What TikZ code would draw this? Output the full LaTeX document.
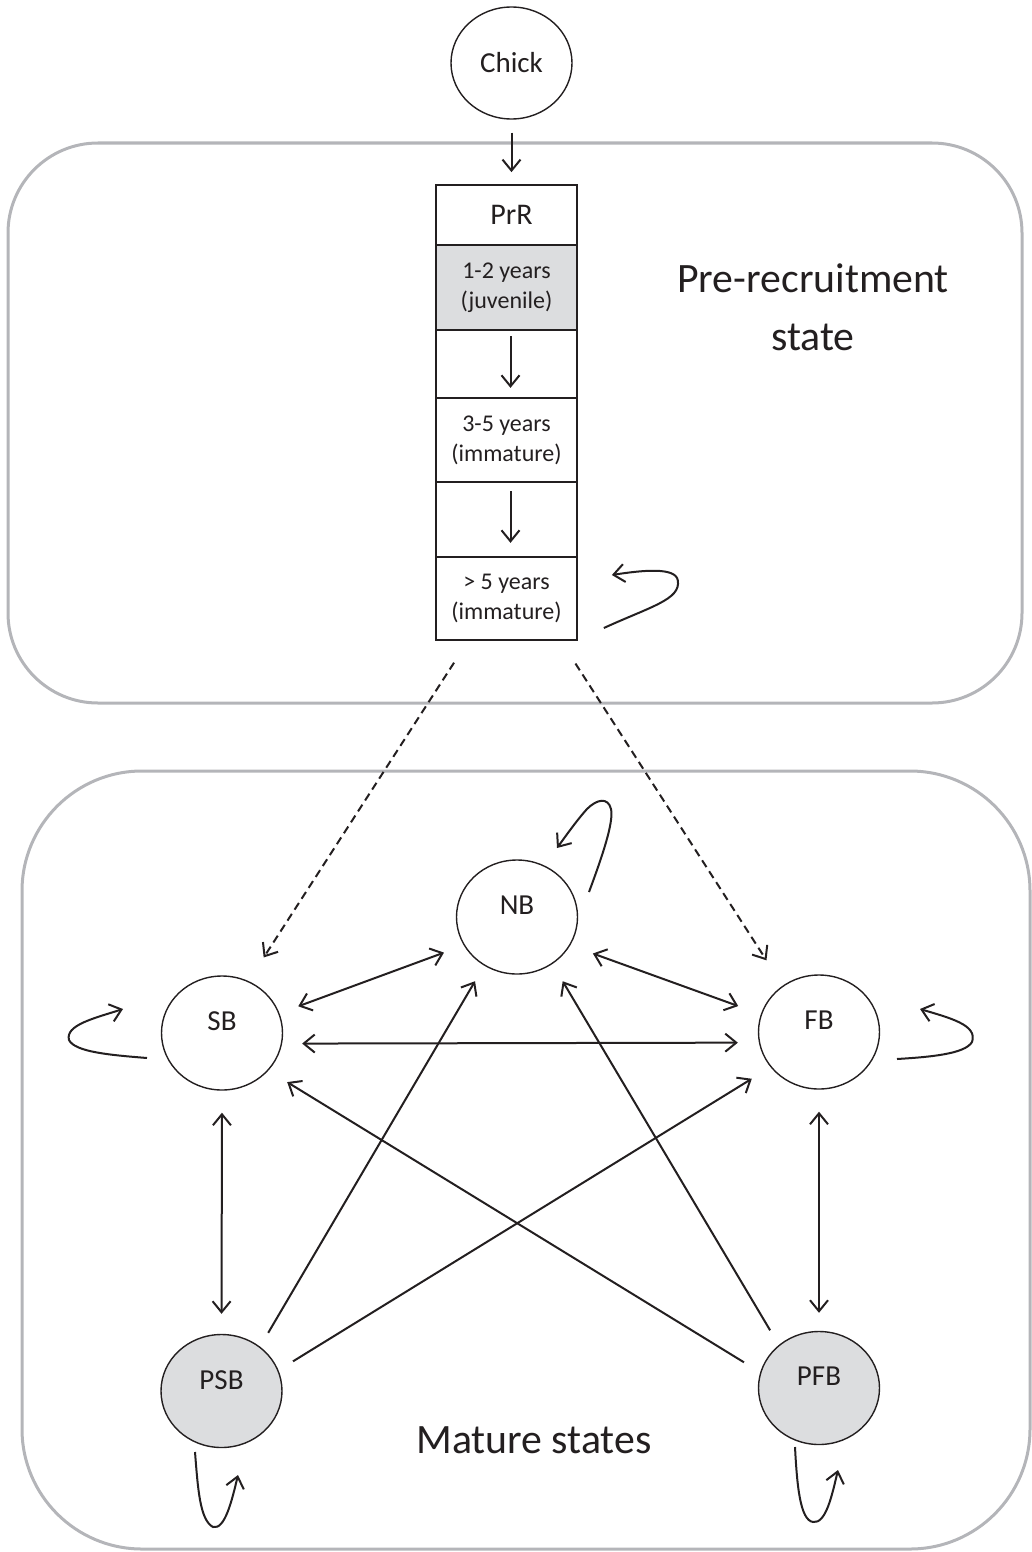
\documentclass[tikz,border=0pt]{standalone}
\usepackage{fontspec}
\setmainfont{Carlito}
\usetikzlibrary{arrows.meta,calc,shapes.geometric}
\definecolor{ink}{HTML}{231F20}
\definecolor{shade}{HTML}{DCDDDF}
\definecolor{framegray}{HTML}{B4B5B9}
\begin{document}
\begin{tikzpicture}[x=1pt,y=-1pt,
  stateel/.style={ellipse,draw=ink,line width=1.4pt,minimum width=121pt,minimum height=114pt,inner sep=0pt},
  grayst/.style={stateel,fill=shade},
  lbl/.style={font=\fontsize{29}{34}\selectfont,text=ink},
  cell/.style={rectangle,draw=ink,line width=1.7pt,minimum width=141pt,inner sep=0pt,align=center,text=ink,font=\fontsize{24}{30}\selectfont},
  conn/.style={draw=ink,line width=2pt},
  arr/.style={-{Straight Barb[length=11pt,width=18pt]}},
  darr/.style={{Straight Barb[length=11pt,width=18pt]}-{Straight Barb[length=11pt,width=18pt]}},
  dashline/.style={dash pattern=on 8pt off 5pt},
  frame/.style={draw=framegray,line width=3pt},
  bigtext/.style={font=\fontsize{41.8}{58}\selectfont,text=ink,inner sep=0pt}
]
\useasboundingbox (0,0) rectangle (1031,1552);

% frames
\draw[frame,rounded corners=90pt] (8,143) rectangle (1022,703);
\draw[frame,rounded corners=120pt] (22,771) rectangle (1030,1549);

% chick
\node[stateel,lbl,minimum height=112pt] (Chick) at (511.5,63) {Chick};

% PrR column
\node[cell,minimum height=60pt] (r0) at (506.5,215) {\fontsize{30}{36}\selectfont\hspace*{10pt}PrR};
\node[cell,minimum height=85pt,fill=shade] (r1) at (506.5,287.5) {1-2 years\\(juvenile)};
\node[cell,minimum height=68pt] (r2) at (506.5,364) {};
\node[cell,minimum height=84pt] (r3) at (506.5,440) {3-5 years\\(immature)};
\node[cell,minimum height=75pt] (r4) at (506.5,519.5) {};
\node[cell,minimum height=83pt] (r5) at (506.5,598.5) {> 5 years\\(immature)};

\draw[conn,arr,shorten <=13pt,shorten >=12pt] (Chick.south) -- ($(r0.north)+(5,0)$);
\draw[conn,arr,shorten <=7pt,shorten >=11pt] ($(r2.north)+(4,0)$) -- ($(r2.south)+(4,0)$);
\draw[conn,arr,shorten <=10pt,shorten >=15pt] ($(r4.north)+(4,0)$) -- ($(r4.south)+(4,0)$);

\begin{scope}[shift={(r5.east)}]
\draw[conn,arr] (26,29.5) .. controls (73,8) and (103,1) .. (100,-18) .. controls (98,-32) and (63,-28) .. (34,-23.5);
\end{scope}

\node[bigtext,anchor=base] (t1) at (813,292) {Pre-recruitment};
\node[bigtext,anchor=base] (t2) at (813,350) {state};

% mature states
\node[stateel,label={[lbl,yshift=12pt]center:NB}] (NB) at (517,917) {};
\node[stateel,label={[lbl,yshift=12pt]center:SB}] (SB) at (222,1033) {};
\node[stateel,label={[lbl,yshift=12pt]center:FB}] (FB) at (819,1032) {};
\node[grayst,minimum height=113pt,label={[lbl,yshift=11pt]center:PSB}] (PSB) at (221.5,1391) {};
\node[grayst,minimum height=113pt,label={[lbl,yshift=12pt]center:PFB}] (PFB) at (819,1388) {};

\node[bigtext,anchor=base] (t3) at (534,1453) {Mature states};

% dashed transitions
\draw[conn,dashline,arr,shorten <=26pt,shorten >=28pt] ($(r5.south west)+(33,0)$) -- (SB.63);
\draw[conn,dashline,arr,shorten <=27pt,shorten >=30pt] ($(r5.south east)+(-17,0)$) -- (FB.128);

% transitions
\draw[conn,darr,shorten <=20pt,shorten >=21pt] (SB.19) -- (NB.208);
\draw[conn,darr,shorten <=24pt,shorten >=24pt] (NB.332) -- (FB.163);
\draw[conn,darr,shorten <=20pt,shorten >=21pt] (SB.-10) -- (FB.190);
\draw[conn,darr,shorten <=22pt,shorten >=20pt] (SB.south) -- (PSB.north);
\draw[conn,darr,shorten <=22pt,shorten >=18pt] (FB.south) -- (PFB.north);
\draw[conn,arr,shorten <=16pt,shorten >=18pt] (PSB.49) -- (NB.236);
\draw[conn,arr,shorten <=17pt,shorten >=22pt] (PSB.20) -- (FB.216);
\draw[conn,arr,shorten <=19pt,shorten >=22pt] (PFB.165) -- (SB.321);
\draw[conn,arr,shorten <=17pt,shorten >=20pt] (PFB.133) -- (NB.307);

% self loops
\begin{scope}[shift={(SB.center)}]
\draw[conn,arr] (-75,25) .. controls (-112,22) and (-147,19) .. (-153,7) .. controls (-157,-8) and (-127,-15) .. (-99,-24);
\end{scope}
\begin{scope}[shift={(FB.center)}]
\draw[conn,arr] (78,27) .. controls (111,25) and (146,22) .. (153,10) .. controls (159,-7) and (131,-14) .. (101,-23);
\end{scope}
\begin{scope}[shift={(NB.center)}]
\draw[conn,arr] (72,-25) .. controls (85,-60) and (97,-95) .. (94,-108) .. controls (91,-120) and (80,-118) .. (70,-108) .. controls (60,-97) and (48,-80) .. (40,-69);
\end{scope}
\begin{scope}[shift={(PSB.center)}]
\draw[conn,arr] (-26.5,61) .. controls (-23.5,99) and (-21.5,129) .. (-8.5,136) .. controls (3.5,139) and (10.5,109) .. (16.5,84);
\end{scope}
\begin{scope}[shift={(PFB.center)}]
\draw[conn,arr] (-24,59) .. controls (-22,97) and (-19,132) .. (-6,134) .. controls (7,136) and (13,107) .. (19,82);
\end{scope}
\end{tikzpicture}
\end{document}
